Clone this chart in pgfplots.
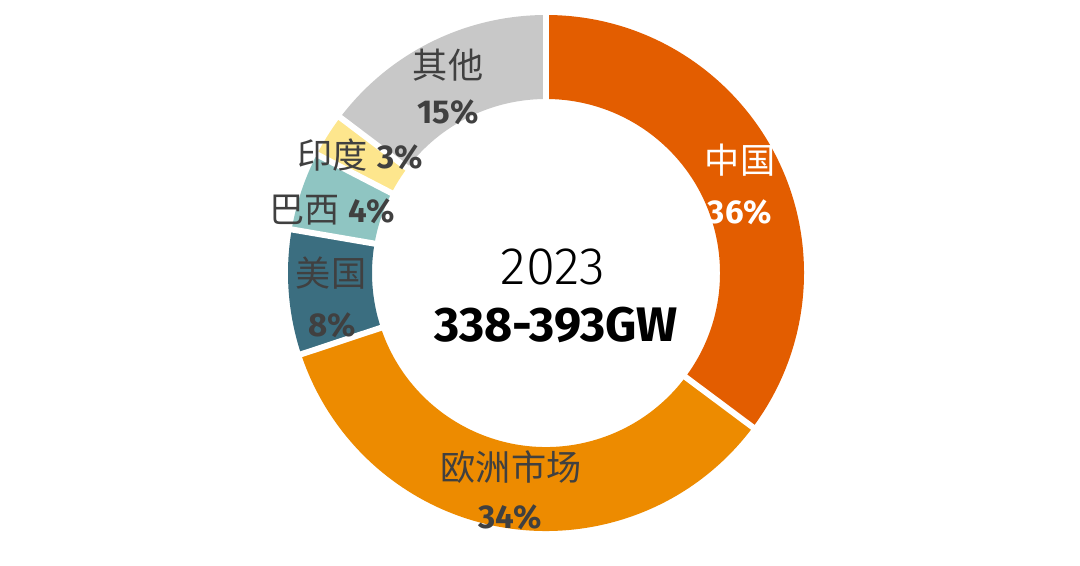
\documentclass[border=0pt]{standalone}
\usepackage{pgfplots}
\pgfplotsset{compat=1.18}
\usepackage{pgfplotstable}
\usepackage{fontspec}
\setmainfont{Fira Sans}
\newfontfamily\cjk{Noto Sans CJK SC}
\newfontfamily\light{Fira Sans Light}

\definecolor{cChina}{HTML}{E35D00}
\definecolor{cEurope}{HTML}{ED8B00}
\definecolor{cUS}{HTML}{3B6E80}
\definecolor{cBrazil}{HTML}{8FC5C2}
\definecolor{cIndia}{HTML}{FDE68D}
\definecolor{cOther}{HTML}{C8C8C8}
\definecolor{lab}{HTML}{404040}

% shares read off the ring, clockwise from 12 o'clock
\pgfplotstableread{
value color
35.2 cChina
34.7 cEurope
7.8  cUS
4.9  cBrazil
2.7  cIndia
14.7 cOther
}\shares

\newcommand{\cjkfont}{\cjk\fontsize{10pt}{11pt}\selectfont}
\newcommand{\pctfont}{\bfseries\fontsize{9.4pt}{10pt}\selectfont}

\begin{document}
\begin{tikzpicture}
\begin{axis}[
    hide axis,
    x=1cm, y=1cm,
    xmin=0, xmax=10.8,
    ymin=0, ymax=5.61,
    clip=false,
]
% keep the whole canvas as the page
\path (axis cs:0,0) rectangle (axis cs:10.8,5.61);
\def\cx{5.46}\def\cy{2.88}
\def\Rout{2.58}\def\Rin{1.74}
\pgfmathsetmacro{\ring}{\Rout-\Rin}
\pgfmathsetmacro{\gapin}{\Rin-0.05}
\pgfmathsetmacro{\gaplen}{\ring+0.1}
\def\cum{0}
\pgfplotsforeachungrouped \k in {0,...,5}{
  \pgfplotstablegetelem{\k}{value}\of\shares \let\val\pgfplotsretval
  \pgfplotstablegetelem{\k}{color}\of\shares \let\col\pgfplotsretval
  \pgfmathsetmacro{\angA}{90-3.6*\cum}
  \pgfmathsetmacro{\cum}{\cum+\val}
  \pgfmathsetmacro{\angB}{90-3.6*\cum}
  \edef\temp{\noexpand\fill[\col] (axis cs:\cx,\cy) ++(\angA:\Rout)
    arc[start angle=\angA, end angle=\angB, radius=\Rout]
    -- ++(\angB:-\ring)
    arc[start angle=\angB, end angle=\angA, radius=\Rin] -- cycle;}
  \temp
}
% white gaps between slices
\def\cum{0}
\pgfplotsforeachungrouped \k in {0,...,5}{
  \pgfplotstablegetelem{\k}{value}\of\shares \let\val\pgfplotsretval
  \pgfmathsetmacro{\angA}{90-3.6*\cum}
  \pgfmathsetmacro{\cum}{\cum+\val}
  \edef\temp{\noexpand\draw[white, line width=0.06cm] (axis cs:\cx,\cy)
    ++(\angA:\gapin) -- ++(\angA:\gaplen);}
  \temp
}

\node[text=lab, font=\cjkfont] at (axis cs:4.48,4.96) {其他};
\node[text=lab, font=\pctfont] at (axis cs:4.48,4.49) {15\%};
\node[text=lab] at (axis cs:3.60,4.06) {{\cjkfont 印度} {\pctfont 3\%}};
\node[text=lab] at (axis cs:3.32,3.51) {{\cjkfont 巴西} {\pctfont 4\%}};
\node[text=lab, font=\cjkfont] at (axis cs:3.31,2.88) {美国};
\node[text=lab, font=\pctfont] at (axis cs:3.32,2.36) {8\%};
\node[text=lab, font=\cjkfont] at (axis cs:5.11,0.94) {欧洲市场};
\node[text=lab, font=\pctfont] at (axis cs:5.10,0.44) {34\%};
\node[text=white, font=\cjkfont] at (axis cs:7.40,4.01) {中国};
\node[text=white, font=\pctfont] at (axis cs:7.40,3.49) {36\%};

\node[text=black, font=\light\fontsize{15pt}{17pt}\selectfont] at (axis cs:5.53,2.94) {2023};
\node[text=black, font=\bfseries\fontsize{13.8pt}{15pt}\selectfont] at (axis cs:5.56,2.36) {338-393GW};
\end{axis}
\end{tikzpicture}
\end{document}
